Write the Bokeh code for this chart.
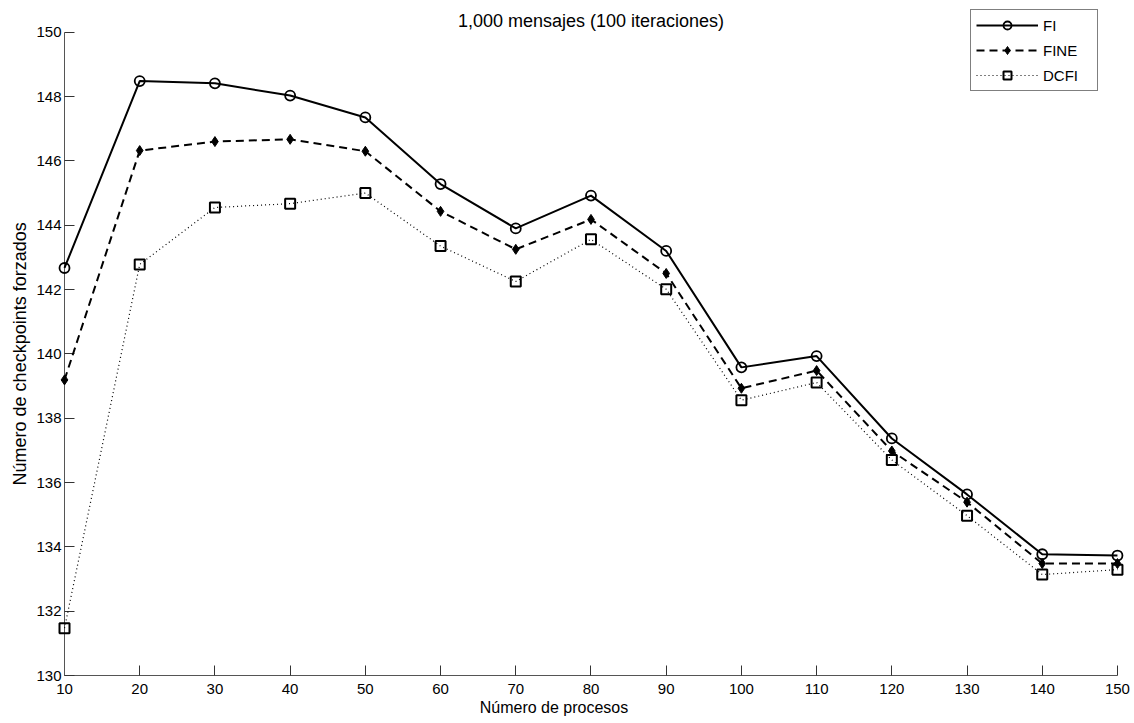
import math
from bokeh.plotting import figure
from bokeh.models import Range1d, FixedTicker, Legend, LegendItem, Label
from bokeh.embed import file_html
from bokeh.resources import INLINE

# ---- data ----
procesos = [10, 20, 30, 40, 50, 60, 70, 80, 90, 100, 110, 120, 130, 140, 150]
fi = [142.67, 148.48, 148.41, 148.03, 147.35, 145.28, 143.90, 144.92, 143.20,
      139.58, 139.93, 137.37, 135.63, 133.77, 133.73]
fine = [139.19, 146.32, 146.60, 146.67, 146.30, 144.43, 143.25, 144.18, 142.50,
        138.93, 139.48, 136.98, 135.39, 133.48, 133.48]
dcfi = [131.47, 142.78, 144.55, 144.67, 145.00, 143.35, 142.25, 143.56, 142.01,
        138.56, 139.11, 136.70, 134.97, 133.14, 133.29]
x_ticks = list(range(10, 151, 10))
y_ticks = list(range(130, 151, 2))
title_text = "1,000 mensajes (100 iteraciones)"
x_label = "Número de procesos"
y_label = "Número de checkpoints forzados"
series_names = ["FI", "FINE", "DCFI"]

FONT = "Liberation Sans"
W, H = 1132, 721

# The frame covers the whole canvas; the axes are pinned at x=10 / y=130 and
# bounded to the tick span, so title, legend and axis titles are never clipped.
p = figure(width=W, height=H, output_backend="svg", toolbar_location=None,
           x_range=Range1d(1.49, 152.0), y_range=Range1d(128.57, 150.986),
           min_border_left=0, min_border_right=0, min_border_top=0,
           min_border_bottom=0)
p.title.visible = False
p.outline_line_color = None
p.grid.visible = False
p.background_fill_color = "white"
p.border_fill_color = "white"

for ax in (p.xaxis[0], p.yaxis[0]):
    ax.major_tick_in = 10
    ax.major_tick_out = 0
    ax.minor_tick_in = 0
    ax.minor_tick_out = 0
    ax.axis_line_color = "#555555"
    ax.axis_line_width = 1
    ax.major_tick_line_color = "#333333"
    ax.major_label_text_font = FONT
    ax.major_label_text_font_size = "15px"
    ax.major_label_text_color = "black"

p.xaxis.ticker = FixedTicker(ticks=x_ticks)
p.yaxis.ticker = FixedTicker(ticks=y_ticks)
p.xaxis.bounds = (x_ticks[0], x_ticks[-1])
p.yaxis.bounds = (y_ticks[0], y_ticks[-1])
p.xaxis.fixed_location = y_ticks[0]
p.yaxis.fixed_location = x_ticks[0]
p.xaxis.major_label_standoff = 8
p.yaxis.major_label_standoff = 3

# ---- series ----
l1 = p.line(procesos, fi, line_color="black", line_width=2, level="overlay")
m1 = p.scatter(procesos, fi, marker="circle", size=10, fill_color=None,
               line_color="black", line_width=1.8, level="overlay")
l2 = p.line(procesos, fine, line_color="black", line_width=2,
            line_dash="8 5", level="overlay")
m2 = p.scatter(procesos, fine, marker="diamond", size=10, fill_color="black",
               line_color="black", line_width=1, level="overlay")
l3 = p.line(procesos, dcfi, line_color="black", line_width=1.2,
            line_dash="1 3", level="overlay")
m3 = p.scatter(procesos, dcfi, marker="square", size=10, fill_color=None,
               line_color="black", line_width=2, level="overlay")

legend = Legend(items=[
    LegendItem(label=series_names[0], renderers=[l1, m1]),
    LegendItem(label=series_names[1], renderers=[l2, m2]),
    LegendItem(label=series_names[2], renderers=[l3, m3]),
], location=(970, 630))
legend.glyph_width = 62
legend.glyph_height = 20
legend.label_height = 20
legend.label_width = 49
legend.label_standoff = 5
legend.spacing = 5
legend.padding = 5
legend.margin = 0
legend.border_line_color = "black"
legend.border_line_width = 1
legend.background_fill_color = "white"
legend.background_fill_alpha = 1
legend.label_text_font = FONT
legend.label_text_font_size = "15px"
legend.label_text_color = "black"
p.add_layout(legend, "center")

x_mid = (x_ticks[0] + x_ticks[-1]) / 2
y_mid = (y_ticks[0] + y_ticks[-1]) / 2

title = Label(x=x_mid, y=y_ticks[-1], text=title_text, text_align="center",
              text_baseline="alphabetic", y_offset=11, text_font=FONT,
              text_font_size="18px", text_color="black")
p.add_layout(title)

xlab = Label(x=x_mid, y=y_ticks[0], text=x_label, text_align="center",
             text_baseline="alphabetic", x_offset=-37, y_offset=-32,
             text_font=FONT, text_font_size="16px", text_color="black")
p.add_layout(xlab)

ylab = Label(x=x_ticks[0], y=y_mid, text=y_label, text_align="center",
             text_baseline="middle", angle=math.pi / 2, x_offset=-45,
             text_font=FONT, text_font_size="18px", text_color="black")
p.add_layout(ylab)

open("out.html", "w").write(file_html(p, INLINE))
